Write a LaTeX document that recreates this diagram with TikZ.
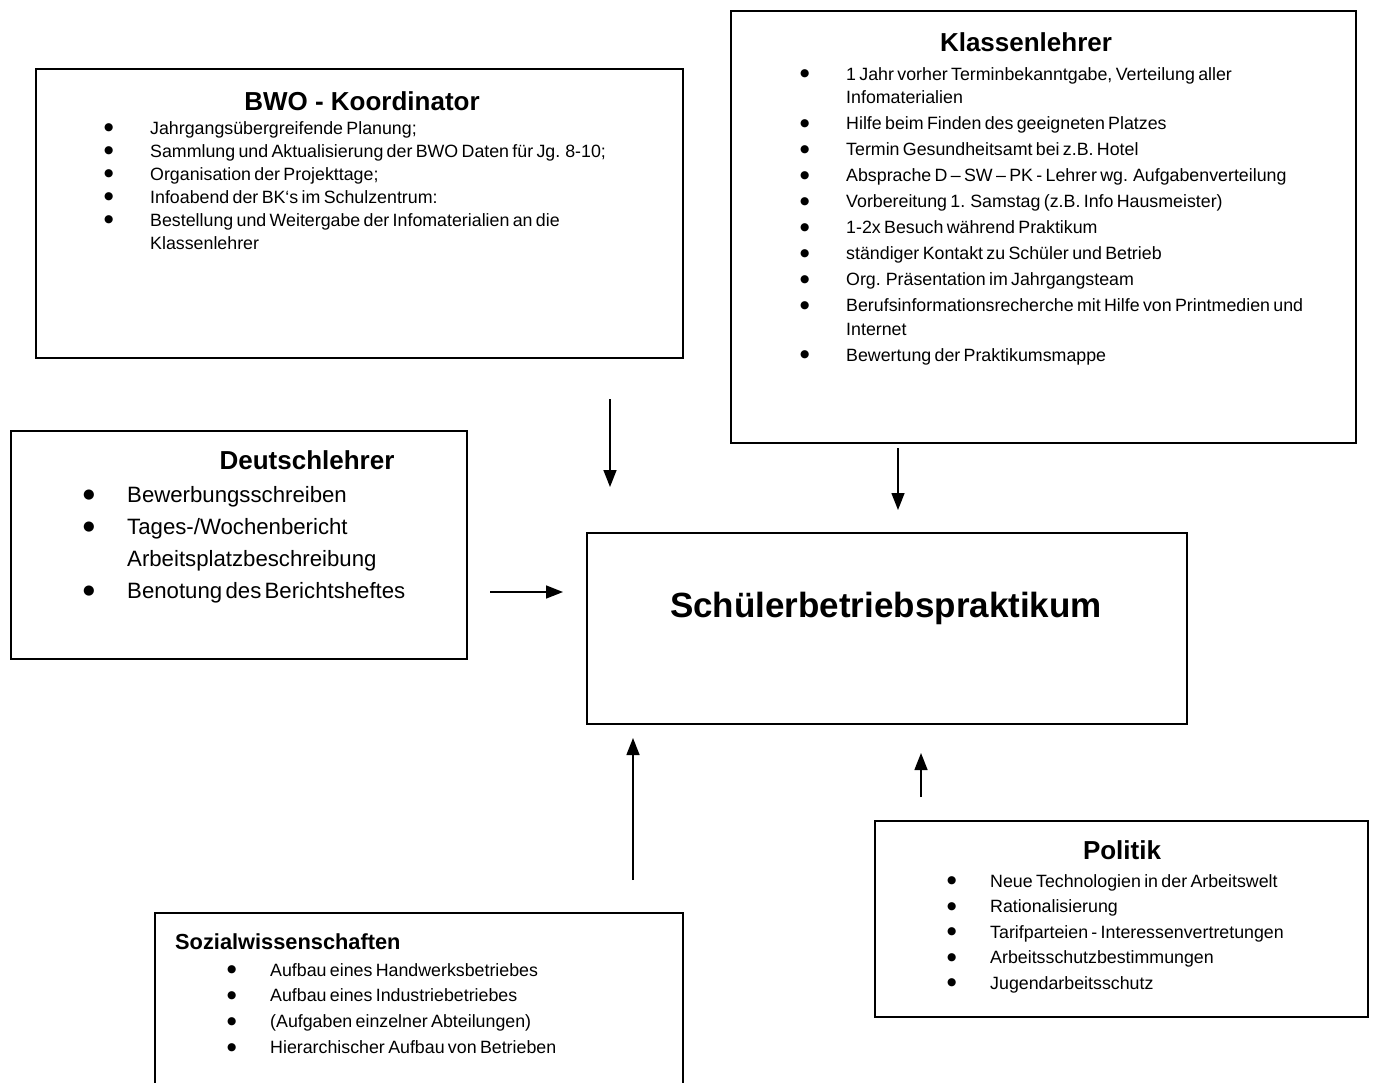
\documentclass[tikz,border=0pt]{standalone}
\usepackage{fontspec}
\usepackage{graphicx}
\setmainfont{Liberation Sans}
\newfontfamily\bulfont{DejaVu Sans}
\usetikzlibrary{arrows.meta}
\newlength\bhang
\newcommand\bul{\raisebox{0.17em}{\scalebox{0.6}{\bulfont ●}}}
\newcommand\bitem[1]{\noindent\hangindent=\bhang\hangafter=1\makebox[\bhang][l]{\bul}#1\par}
\tikzset{
  frame/.style={draw, line width=1.5pt, inner sep=0pt, anchor=north west},
  ttl/.style={font=\fontsize{26}{30}\selectfont\bfseries, inner sep=0pt, anchor=base},
  lst/.style={inner sep=0pt, text width=640pt, align=left, anchor=base west},
  arr/.style={line width=1.5pt, -{Triangle[width=13pt,length=17pt]}},
}
\begin{document}
\begin{tikzpicture}[x=1pt,y=-1pt]
\useasboundingbox (0,0) rectangle (1383,1082);
\clip (0,0) rectangle (1383,1082);
\fill[white] (0,0) rectangle (1383,1082);

% boxes
\node[frame, minimum width=647pt, minimum height=289pt] (bwo) at (35,68) {};
\node[frame, minimum width=625pt, minimum height=432pt] (kl) at (730,10) {};
\node[frame, minimum width=456pt, minimum height=228pt] (dl) at (10,430) {};
\node[frame, minimum width=600pt, minimum height=191pt] (sbp) at (586,532) {};
\node[frame, minimum width=493pt, minimum height=196pt] (pol) at (874,820) {};
\node[frame, minimum width=528pt, minimum height=220pt] (sw) at (154,912) {};

% titles
\node[ttl] (bwoT) at (362,110) {BWO - Koordinator};
\node[ttl] (klT) at (1026,51) {Klassenlehrer};
\node[ttl] (dlT) at (307,469) {Deutschlehrer};
\node[ttl] (polT) at (1122,859) {Politik};
\node[ttl, anchor=base west, font=\fontsize{21.8}{26}\selectfont\bfseries] (swT) at (175,949) {Sozialwissenschaften};
\node[ttl, font=\fontsize{35}{40}\selectfont\bfseries] (sbpT) at (886,617) {Schülerbetriebspraktikum};

% lists
\node[lst] (bwoL) at (104,134) {\fontsize{17.8}{23}\selectfont\setlength\bhang{46pt}%
\bitem{Jahrgangsübergreifende Planung;}%
\bitem{Sammlung und Aktualisierung der BWO Daten für Jg. 8-10;}%
\bitem{Organisation der Projekttage;}%
\bitem{Infoabend der BK\symbol{"60}s im Schulzentrum:}%
\bitem{Bestellung und Weitergabe der Infomaterialien an die\break Klassenlehrer}};

\node[lst] (klL) at (800,80) {\fontsize{17.8}{23.5}\selectfont\setlength\bhang{46pt}\setlength\parskip{2.5pt}%
\bitem{1 Jahr vorher Terminbekanntgabe, Verteilung aller\break Infomaterialien}%
\bitem{Hilfe beim Finden des geeigneten Platzes}%
\bitem{Termin Gesundheitsamt bei z.B. Hotel}%
\bitem{Absprache D – SW – PK - Lehrer wg. Aufgabenverteilung}%
\bitem{Vorbereitung 1. Samstag (z.B. Info Hausmeister)}%
\bitem{1-2x Besuch während Praktikum}%
\bitem{ständiger Kontakt zu Schüler und Betrieb}%
\bitem{Org. Präsentation im Jahrgangsteam}%
\bitem{Berufsinformationsrecherche mit Hilfe von Printmedien und\break Internet}%
\bitem{Bewertung der Praktikumsmappe}};

\node[lst] (dlL) at (83,502) {\fontsize{22.2}{32}\selectfont\setlength\bhang{44pt}%
\bitem{Bewerbungsschreiben}%
\bitem{Tages-/Wochenbericht\break Arbeitsplatzbeschreibung}%
\bitem{Benotung des Berichtsheftes}};

\node[lst] (polL) at (947,887) {\fontsize{17.8}{25.5}\selectfont\setlength\bhang{43pt}%
\bitem{Neue Technologien in der Arbeitswelt}%
\bitem{Rationalisierung}%
\bitem{Tarifparteien - Interessenvertretungen}%
\bitem{Arbeitsschutzbestimmungen}%
\bitem{Jugendarbeitsschutz}};

\node[lst] (swL) at (227,976) {\fontsize{17.8}{25.7}\selectfont\setlength\bhang{43pt}%
\bitem{Aufbau eines Handwerksbetriebes}%
\bitem{Aufbau eines Industriebetriebes}%
\bitem{(Aufgaben einzelner Abteilungen)}%
\bitem{Hierarchischer Aufbau von Betrieben}};

% arrows (free-floating, as in the reference)
\coordinate (a1s) at (610,399);  \coordinate (a1e) at (610,487);
\coordinate (a2s) at (898,448);  \coordinate (a2e) at (898,510);
\coordinate (a3s) at (490,592);  \coordinate (a3e) at (563,592);
\coordinate (a4s) at (633,880);  \coordinate (a4e) at (633,738);
\coordinate (a5s) at (921,797);  \coordinate (a5e) at (921,753);
\draw[arr] (a1s) -- (a1e);
\draw[arr] (a2s) -- (a2e);
\draw[arr] (a3s) -- (a3e);
\draw[arr] (a4s) -- (a4e);
\draw[arr] (a5s) -- (a5e);
\end{tikzpicture}
\end{document}
